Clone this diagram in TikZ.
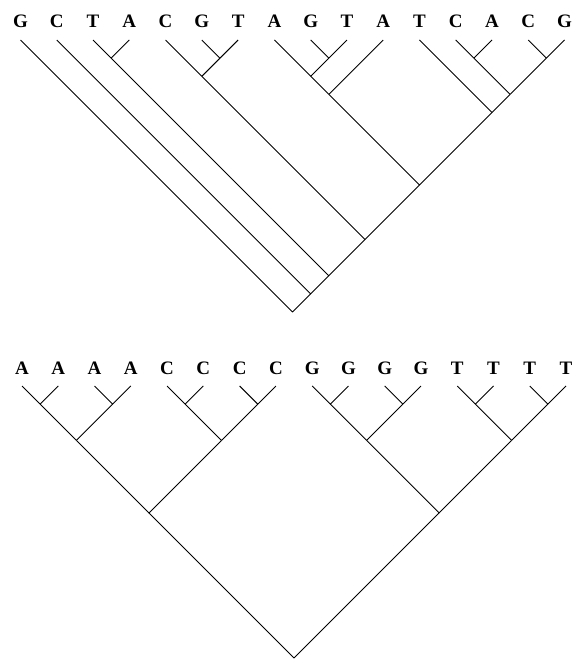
\documentclass[tikz,border=0pt]{standalone}
\usepackage{fontspec}
\setmainfont{Liberation Serif}
\tikzset{leaflabel/.style={font=\bfseries\fontsize{19}{19}\selectfont, inner sep=0pt},
	branch/.style={line width=0.9pt, line join=round}}

\begin{document}
\begin{tikzpicture}[x=1pt,y=-1pt]
	\useasboundingbox (0,0) rectangle (573,659);
	\def\s{36.27}
	% upper tree
	\foreach \l [count=\i from 0] in {G,C,T,A,C,G,T,A,G,T,A,T,C,A,C,G}{
		\coordinate (a\i) at ({20.5+\s*\i},40);
		\node[leaflabel] (la\i) at ({20.5+\s*\i},21) {\l};
	}
	\foreach \p/\q/\l/\r in {2/3/2/3, 5/6/5/6, 4/6/4/5-6, 8/9/8/9, 7/9/7/8-9, 7/10/7-9/10,
		12/13/12/13, 14/15/14/15, 12/15/12-13/14-15, 11/15/11/12-15, 7/15/7-10/11-15,
		4/15/4-6/7-15, 2/15/2-3/4-15, 1/15/1/2-15, 0/15/0/1-15}{
		\coordinate (a\p-\q) at ({20.5+\s*(\p+\q)/2},{40+\s*(\q-\p)/2});
		\draw[branch] (a\l) -- (a\p-\q) -- (a\r);
	}
	% lower tree
	\foreach \l [count=\i from 0] in {A,A,A,A,C,C,C,C,G,G,G,G,T,T,T,T}{
		\coordinate (b\i) at ({22+\s*\i},386);
		\node[leaflabel] (lb\i) at ({22+\s*\i},368) {\l};
	}
	\foreach \p/\q/\l/\r in {0/1/0/1, 2/3/2/3, 4/5/4/5, 6/7/6/7, 8/9/8/9, 10/11/10/11,
		12/13/12/13, 14/15/14/15, 0/3/0-1/2-3, 4/7/4-5/6-7, 8/11/8-9/10-11,
		12/15/12-13/14-15, 0/7/0-3/4-7, 8/15/8-11/12-15, 0/15/0-7/8-15}{
		\coordinate (b\p-\q) at ({22+\s*(\p+\q)/2},{386+\s*(\q-\p)/2});
		\draw[branch] (b\l) -- (b\p-\q) -- (b\r);
	}
\end{tikzpicture}
\end{document}
